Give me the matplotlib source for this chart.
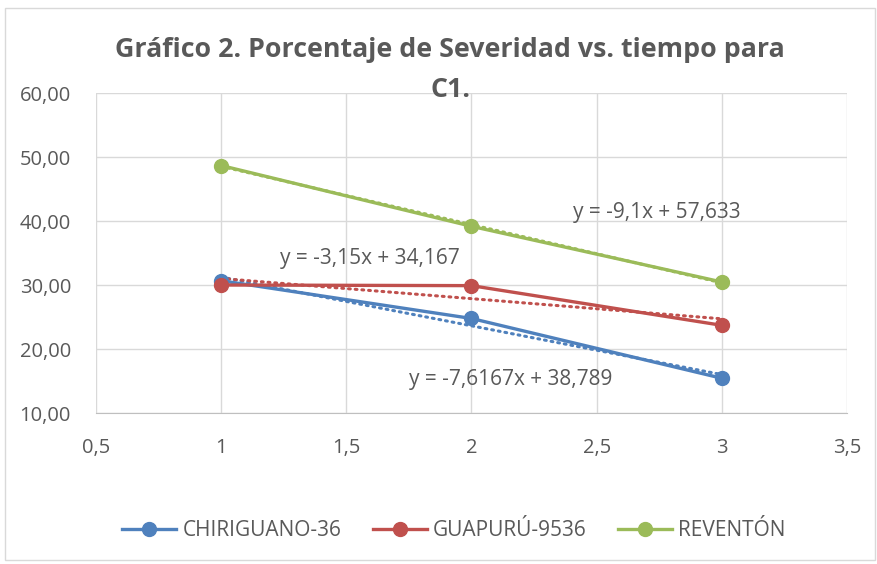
import matplotlib
matplotlib.use("Agg")
import matplotlib.pyplot as plt
import numpy as np
from matplotlib.patches import Rectangle

x = [1, 2, 3]
series_names = ["CHIRIGUANO-36", "GUAPURÚ-9536", "REVENTÓN"]
chiriguano = [30.67, 24.77, 15.43]
guapuru = [30.00, 29.90, 23.70]
reventon = [48.67, 39.17, 30.47]
equations = ["y = -7,6167x + 38,789", "y = -3,15x + 34,167", "y = -9,1x + 57,633"]
colors = ["#4F81BD", "#C0504D", "#9BBB59"]
xticks = [0.5, 1, 1.5, 2, 2.5, 3, 3.5]
yticks = [10, 20, 30, 40, 50, 60]

plt.rcParams['font.family'] = ['Open Sans', 'DejaVu Sans']
gray = "#595959"

fig = plt.figure(figsize=(8.78, 5.64), dpi=100)
fig.patches.append(Rectangle((5/878, 1-560/564), 870/878, 552/564, transform=fig.transFigure,
                             fill=False, edgecolor="#D9D9D9", linewidth=1))
ax = fig.add_axes([96/878, 1-413/564, 751/878, 320/564])

label_pos = [(2.155, 15.3), (1.594, 34.1), (2.741, 41.4)]
for vals, name, c, eq, pos in zip([chiriguano, guapuru, reventon], series_names, colors, equations, label_pos):
    ax.plot(x, vals, color=c, lw=2.4, marker='o', ms=10, label=name, zorder=3)
    m, b = np.polyfit(x, vals, 1)
    xx = np.array([1, 3])
    ax.plot(xx, m*xx + b, color=c, lw=2.2, linestyle=(0, (0.6, 1.6)), dash_capstyle='round', zorder=2)
    ax.text(pos[0], pos[1], eq, color=gray, fontsize=15, ha='center', va='center')

ax.set_xlim(0.5, 3.5)
ax.set_ylim(10, 60)
ax.set_xticks(xticks)
ax.set_xticklabels([f"{t:g}".replace('.', ',') for t in xticks])
ax.set_yticks(yticks)
ax.set_yticklabels([f"{t:.2f}".replace('.', ',') for t in yticks])
ax.grid(True, color="#D9D9D9", lw=1)
ax.set_axisbelow(True)
for s in ['top', 'right', 'left']:
    ax.spines[s].set_visible(False)
ax.spines['bottom'].set_color("#BFBFBF")
ax.tick_params(axis='both', length=0, colors=gray, labelsize=14.5)
ax.tick_params(axis='x', pad=18)
ax.tick_params(axis='y', pad=18)

fig.text(450/878, 1-50/564, "Gráfico 2. Porcentaje de Severidad vs. tiempo para", ha='center', va='center',
         fontsize=19.3, fontweight='bold', color=gray)
fig.text(450/878, 1-90/564, "C1.", ha='center', va='center', fontsize=19.3, fontweight='bold', color=gray)

fig.legend(loc='center', bbox_to_anchor=(454/878, 1-531/564), ncol=3, frameon=False,
           fontsize=15, labelcolor=gray, handlelength=2.6, columnspacing=1.5, handletextpad=0.3)

fig.savefig("out.png", dpi=100)
